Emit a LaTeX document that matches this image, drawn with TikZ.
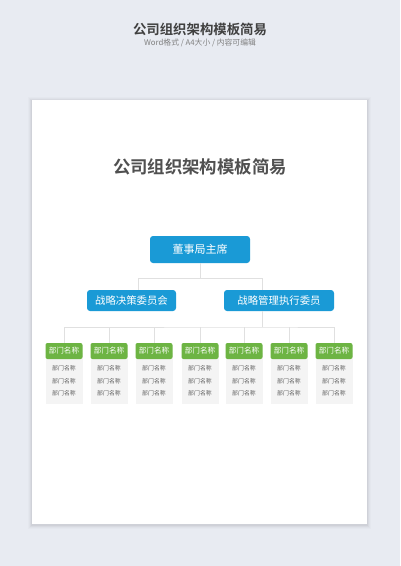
\documentclass[tikz,border=0pt]{standalone}
\usepackage{fontspec}
\setmainfont{Noto Sans CJK SC}
\newfontfamily\cjk{Noto Sans CJK SC}
\newfontfamily\cjkb{Noto Sans CJK SC Bold}
\definecolor{bgc}{HTML}{E8EBF2}
\definecolor{blu}{HTML}{1A9AD6}
\definecolor{grn}{HTML}{6DB443}
\definecolor{bodyg}{HTML}{F4F4F4}
\definecolor{linec}{HTML}{E0E0E0}
\definecolor{titc}{HTML}{505050}
\tikzset{
  bluebox/.style={fill=blu, rounded corners=3pt, text=white, font=\cjk\fontsize{10.4}{11}\selectfont, inner sep=0pt},
  greenhead/.style={fill=grn, rounded corners=2pt, text=white, minimum width=37pt, minimum height=16pt, font=\cjk\fontsize{7.6}{8}\selectfont, inner sep=0pt},
  deptbody/.style={fill=bodyg, minimum width=37pt, minimum height=51pt, inner sep=0pt},
  itemtxt/.style={text=titc!90, font=\cjk\fontsize{5.9}{6}\selectfont, inner sep=0pt},
  conn/.style={draw=linec, line width=0.6pt}
}
\begin{document}
\begin{tikzpicture}[x=1pt,y=-1pt]
\useasboundingbox (0,0) rectangle (400,566);
\fill[bgc] (0,0) rectangle (400,566);
% page shadow
\foreach \d/\o in {4/0.015,3/0.02,2/0.03,1/0.04}{
  \fill[black,opacity=\o] (32-\d,100-\d+1) rectangle (367+\d,524+\d+1);
}
\fill[white] (32,100) rectangle (367,524);
% headings
\node[text=titc!80!black, font=\cjkb\fontsize{13.4}{14}\selectfont] (htitle) at (200,29) {公司组织架构模板简易};
\node[text=gray, font=\cjk\fontsize{7.8}{8}\selectfont] (hsub) at (200,42.5) {Word格式 / A4大小 / 内容可编辑};
\node[text=titc, font=\cjkb\fontsize{17.4}{18}\selectfont] (ptitle) at (200,167) {公司组织架构模板简易};
% level boxes
\node[bluebox, font=\cjk\fontsize{11}{12}\selectfont, minimum width=100pt, minimum height=27pt] (chair) at (200,249.5) {董事局主席};
\node[bluebox, minimum width=89pt, minimum height=21pt] (left) at (131.5,300.5) {战略决策委员会};
\node[bluebox, minimum width=110pt, minimum height=21pt] (right) at (279,300.5) {战略管理执行委员};
\coordinate (hub) at (200,278);
\coordinate (hub2) at (262,327);
\draw[conn] (chair.south) -- (hub);
\draw[conn] (hub) -| ([xshift=6.5pt]left.north);
\draw[conn] (hub) -| ([xshift=-17pt]right.north);
\draw[conn] ([xshift=-17pt]right.south) -- (hub2);
% departments
\foreach \i/\x in {1/64,2/109,3/154,4/200,5/244,6/289,7/334}{
  \node[deptbody, anchor=north] (body\i) at (\x,353) {};
  \node[greenhead] (head\i) at (\x,351) {部门名称};
  \node[itemtxt] (a\i) at (\x,368) {部门名称};
  \node[itemtxt] (b\i) at (\x,381) {部门名称};
  \node[itemtxt] (c\i) at (\x,393.5) {部门名称};
}
\draw[conn] (head1.north) |- (hub2) -| (head7.north);
\foreach \i in {2,...,6}{
  \draw[conn] (head\i.north) -- (head\i.north |- hub2);
}
\end{tikzpicture}
\end{document}
